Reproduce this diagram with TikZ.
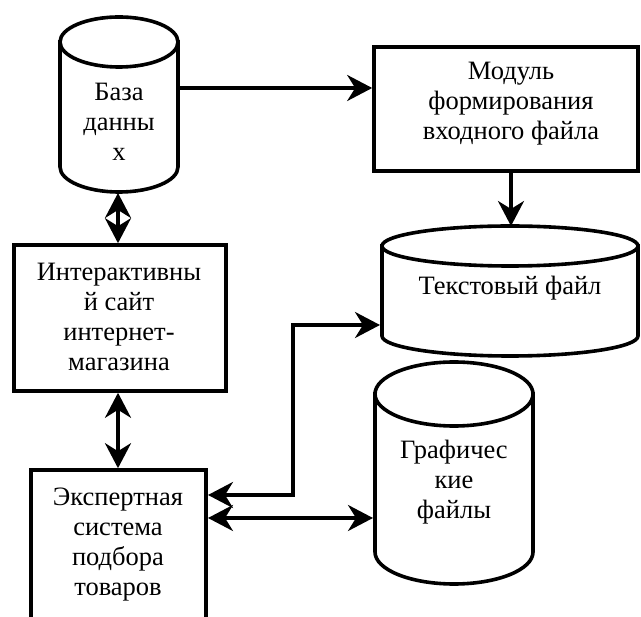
\documentclass[tikz,border=0pt]{standalone}
\usepackage{fontspec}
\setmainfont{Liberation Serif}
\usetikzlibrary{arrows.meta}

% cylinder: left x, right x, top centre y, bottom centre y, radius y
\newcommand\drum[5]{%
  \pgfmathsetmacro\cx{(#1+#2)/2}%
  \pgfmathsetmacro\rx{(#2-#1)/2}%
  \pgfmathsetmacro\kx{0.5523*\rx}%
  \pgfmathsetmacro\ky{0.5523*#5}%
  \filldraw[fill=white, thick line]
    (#1,#3) -- (#1,#4)
    .. controls (#1,#4+\ky) and (\cx-\kx,#4+#5) .. (\cx,#4+#5)
    .. controls (\cx+\kx,#4+#5) and (#2,#4+\ky) .. (#2,#4)
    -- (#2,#3) -- cycle;
  \filldraw[fill=white, thick line] (\cx,#3) ellipse[x radius=\rx, y radius=#5];
}

\begin{document}
\begin{tikzpicture}[x=1pt, y=-1pt,
  thick line/.style={line width=3.6pt},
  box/.style={draw, thick line, fill=white, inner sep=0pt},
  lbl/.style={align=center, inner sep=0pt, font=\fontsize{26.5}{30}\selectfont},
  tip/.style={Stealth[length=25pt, width=26pt, inset=8pt]},
  link/.style={line width=3.4pt, -{Stealth[length=25pt, width=26pt, inset=8pt]}},
  dlink/.style={line width=3.4pt, {Stealth[length=25pt, width=26pt, inset=8pt]}-{Stealth[length=25pt, width=26pt, inset=8pt]}},
]
\useasboundingbox (0,0) rectangle (641,617);

% storages
\drum{60}{178}{42}{167}{25}
\drum{375}{533}{394}{552}{32}
\drum{382}{638}{246}{336}{20}

% boxes
\node[box, minimum width=264, minimum height=124] (mod) at (506,109) {};
\node[box, minimum width=212, minimum height=146] (site) at (120,318) {};
\node[box, minimum width=175, minimum height=190] (exp) at (118.5,565) {};

% texts
\node[lbl] (dbt)  at (119,122) {База\\данны\\х};
\node[lbl] (modt) at (511,104) {Модуль\\формирования\\входного файла};
\node[lbl] (tft)  at (510,288) {Текстовый файл};
\node[lbl] (sitet) at (119,317) {Интерактивны\\й сайт\\интернет-\\магазина};
\node[lbl] (grt)  at (454,482) {Графичес\\кие\\файлы};
\node[lbl] (expt) at (118,545) {Экспертная\\система\\подбора\\товаров};

% connection points on the storages
\coordinate (dbR) at (179,88);
\coordinate (dbB) at (118,193);
\coordinate (tfT) at (511,226);
\coordinate (tfL) at (380,325);
\coordinate (grL) at (373,518);
\coordinate (expA) at (208,495);
\coordinate (expB) at (208,518);

% connectors
\draw[link] (dbR) -- (dbR -| mod.west);
\draw[link] ([xshift=5pt]mod.south) -- (tfT);
\draw[dlink] (dbB) -- (dbB |- site.north);
\draw[dlink] (site.south -| dbB) -- (exp.north -| dbB);
\draw[dlink] (expA) -- (293,495) -- (293,325) -- (tfL);
\draw[dlink] (expB) -- (grL);
\end{tikzpicture}
\end{document}
